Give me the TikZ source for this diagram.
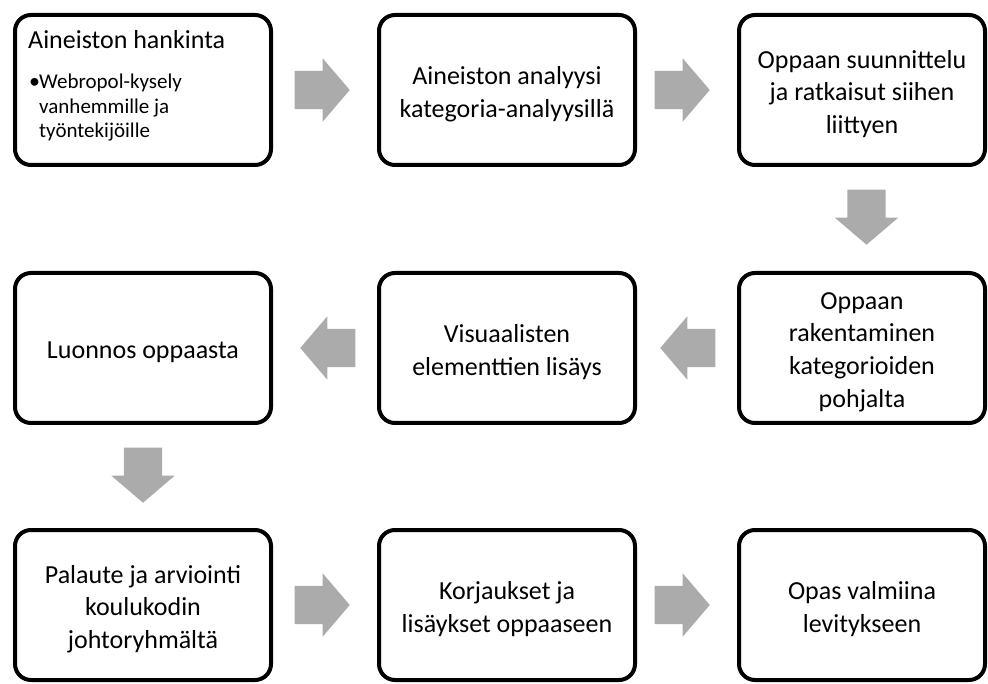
\documentclass[tikz,border=0pt]{standalone}
\usepackage{fontspec}
\setmainfont{Carlito}
\usetikzlibrary{shapes.arrows}
\definecolor{arrowgray}{HTML}{ABABAB}
\tikzset{
  stepbox/.style={draw=black, line width=4pt, rounded corners=16pt, fill=white,
    inner sep=0pt, minimum height=150pt},
  widebox/.style={stepbox, minimum width=256pt},
  narrowbox/.style={stepbox, minimum width=246pt},
  boxtext/.style={align=center, inner sep=0pt, yshift=-4pt,
    font=\fontsize{26}{32.7}\selectfont},
  blockarrow/.style={single arrow, fill=arrowgray, draw=none, anchor=tip,
    inner xsep=0pt, inner ysep=19pt, minimum height=55pt,
    single arrow head extend=12.5pt, single arrow tip angle=99},
  rightarrow/.style={blockarrow},
  leftarrow/.style={blockarrow, rotate=180},
  downarrow/.style={blockarrow, rotate=-90},
}
\begin{document}
\begin{tikzpicture}[x=1pt, y=-1pt]
\useasboundingbox (0,0) rectangle (988,684);
% row 1
\node[widebox] (b1) at (143,90) {};
\node[anchor=base west, inner sep=0pt, font=\fontsize{26}{31.5}\selectfont] (t1) at (28,49) {Aineiston hankinta};
\node[anchor=base west, inner sep=0pt, font=\fontsize{22}{24.5}\selectfont] (bu1) at (29,89) {•};
\node[anchor=base west, inner sep=0pt, font=\fontsize{21}{24.5}\selectfont] (l1) at (39,89)
  {\parbox[t]{225pt}{\raggedright Webropol-kysely\\vanhemmille ja\\työntekijöille}};
\node[widebox] (b2) at (507,90) {};
\node[boxtext] (b2t) at (b2.center) {Aineiston analyysi\\kategoria-analyysillä};
\node[narrowbox] (b3) at (862,90) {};
\node[boxtext] (b3t) at (b3.center) {Oppaan suunnittelu\\ja ratkaisut siihen\\liittyen};
% row 2
\node[narrowbox] (b4) at (862,348) {};
\node[boxtext] (b4t) at (b4.center) {Oppaan\\rakentaminen\\kategorioiden\\pohjalta};
\node[widebox] (b5) at (507,348) {};
\node[boxtext] (b5t) at (b5.center) {Visuaalisten\\elementtien lisäys};
\node[widebox] (b6) at (143,348) {};
\node[boxtext] (b6t) at (b6.center) {Luonnos oppaasta};
% row 3
\node[widebox] (b7) at (143,605) {};
\node[boxtext] (b7t) at (b7.center) {Palaute ja arviointi\\koulukodin\\johtoryhmältä};
\node[widebox] (b8) at (507,605) {};
\node[boxtext] (b8t) at (b8.center) {Korjaukset ja\\lisäykset oppaaseen};
\node[narrowbox] (b9) at (862,605) {};
\node[boxtext] (b9t) at (b9.center) {Opas valmiina\\levitykseen};
% arrows (placed by their tips)
\node[rightarrow] (a12) at (350,90) {};
\node[rightarrow] (a23) at (710,90) {};
\node[downarrow] (a34) at (866.5,245) {};
\node[leftarrow] (a45) at (660,348) {};
\node[leftarrow] (a56) at (300,348) {};
\node[downarrow] (a67) at (143,503) {};
\node[rightarrow] (a78) at (350,605) {};
\node[rightarrow] (a89) at (710,605) {};
\end{tikzpicture}
\end{document}
